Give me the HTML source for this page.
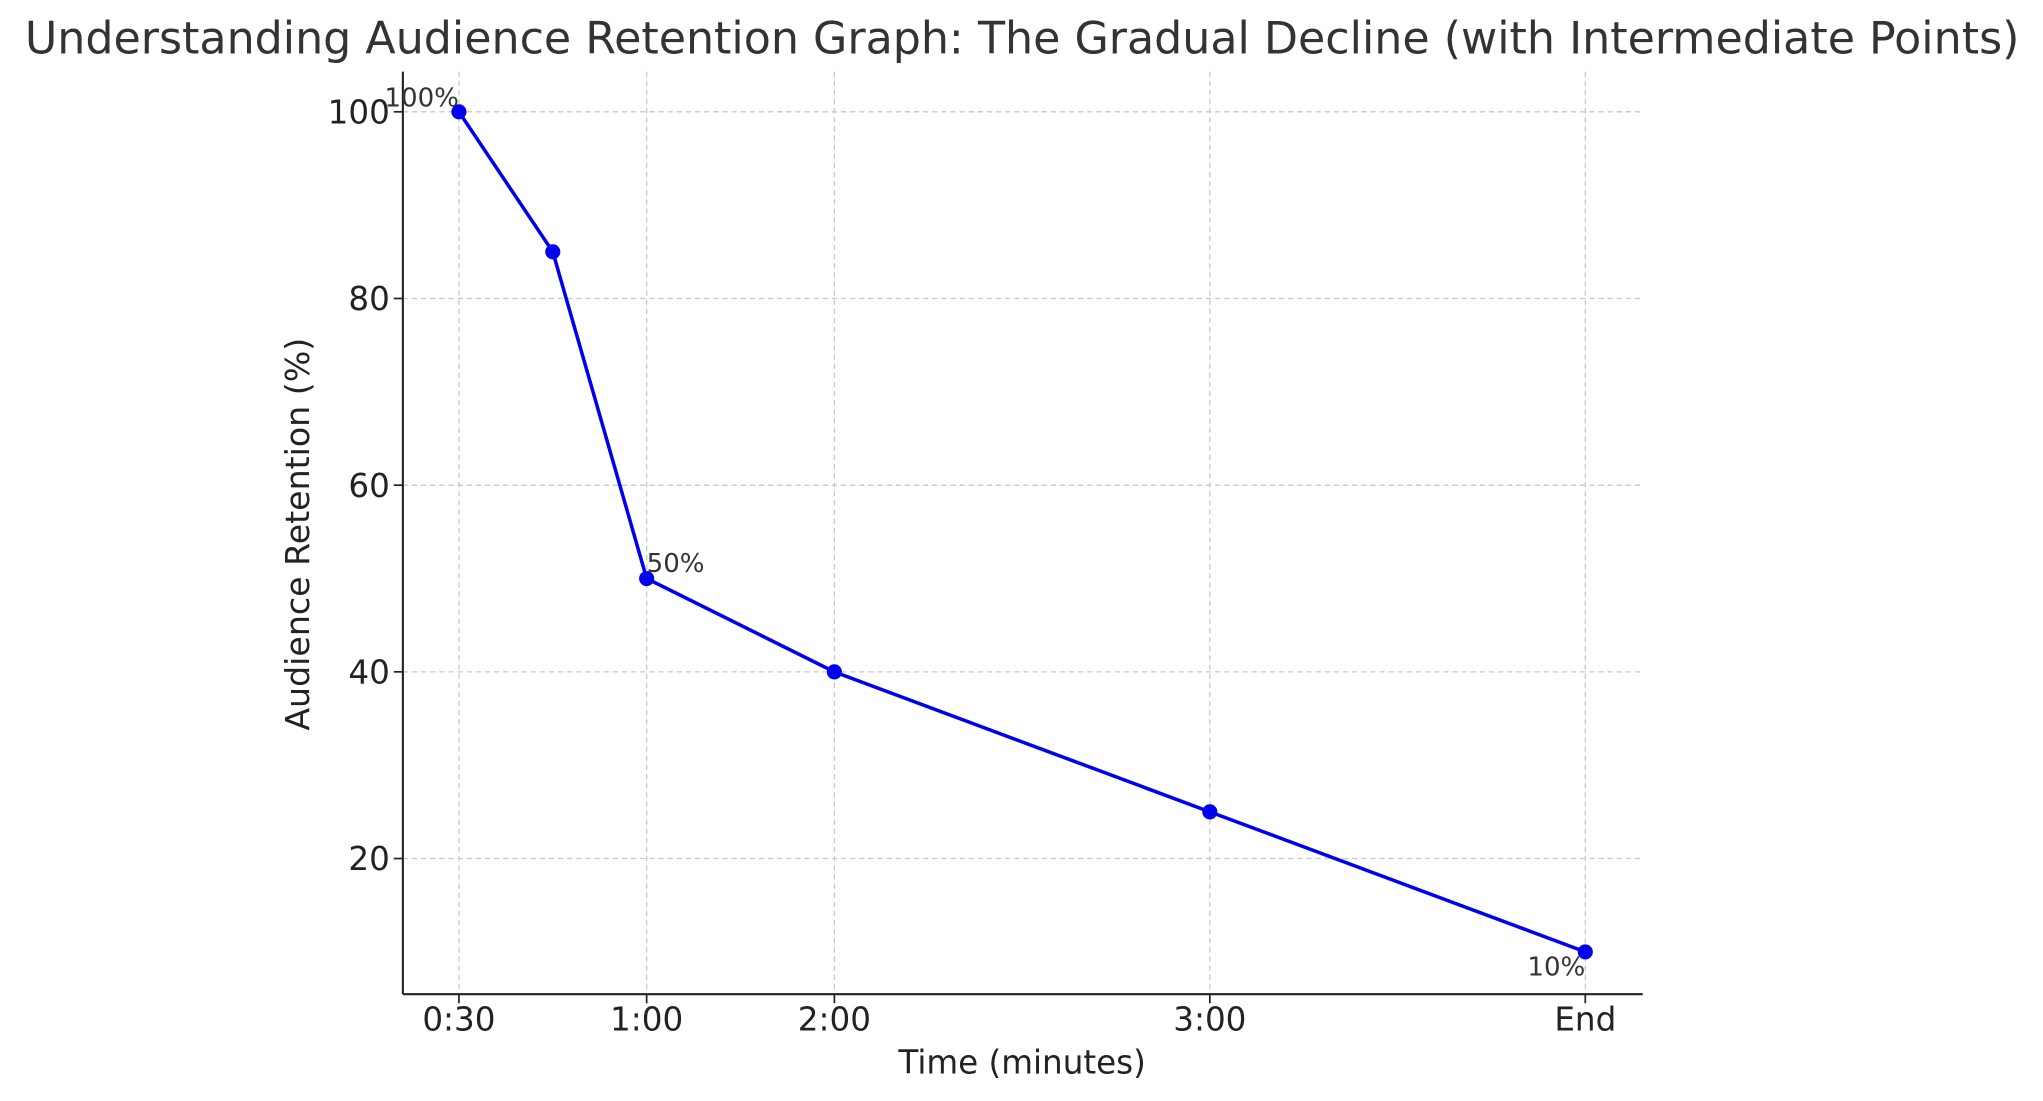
<!DOCTYPE html>
<html><head><meta charset="utf-8"><style>
html,body{margin:0;padding:0;background:#fff}
svg{display:block;font-family:"DejaVu Sans","Liberation Sans",sans-serif}
</style></head><body>
<svg id="chart" width="2043" height="1101" viewBox="0 0 1567 845" preserveAspectRatio="none" xmlns="http://www.w3.org/2000/svg">
<text x="784" y="41" text-anchor="middle" font-size="34" fill="#333">Understanding Audience Retention Graph: The Gradual Decline (with Intermediate Points)</text>
<g id="grid"></g>
<g id="axes"></g>
<g id="series"></g>
<text x="784" y="824" text-anchor="middle" font-size="25" fill="#222">Time (minutes)</text>
<text transform="translate(237,410) rotate(-90)" text-anchor="middle" font-size="25.5" fill="#222">Audience Retention (%)</text>
</svg>
<script>
const xValues = [0.5, 0.75, 1, 1.5, 2.5, 3.5];
const retention = [100, 85, 50, 40, 25, 10];
const xTickValues = [0.5, 1, 1.5, 2.5, 3.5];
const xTickLabels = ["0:30", "1:00", "2:00", "3:00", "End"];
const yTickValues = [20, 40, 60, 80, 100];
const annotations = [[0, "100%"], [2, "50%"], [5, "10%"]];

const NS = "http://www.w3.org/2000/svg";
const L = 309, R = 1260, T = 55, B = 763;
const xMin = 0.3507, xMax = 3.653, yMin = 5.47, yMax = 104.3;
const sx = v => L + (v - xMin) / (xMax - xMin) * (R - L);
const sy = v => B - (v - yMin) / (yMax - yMin) * (B - T);
function mk(tag, attrs, parent) { const e = document.createElementNS(NS, tag); for (const k in attrs) e.setAttribute(k, attrs[k]); parent.appendChild(e); return e; }
const grid = document.getElementById('grid'), axes = document.getElementById('axes'), series = document.getElementById('series');

yTickValues.forEach(v => {
  const g = mk('line', {x1: L, x2: R, y1: sy(v), y2: sy(v), stroke: '#c8c8c8', 'stroke-dasharray': '4,3', 'stroke-width': 1}, grid);
  
  
  const t = mk('line', {x1: L - 7, x2: L, y1: sy(v), y2: sy(v), stroke: '#222', 'stroke-width': 1.3}, axes);
  
  
  const l = mk('text', {x: L - 10, y: sy(v) + 9, 'text-anchor': 'end', 'font-size': 25, fill: '#222'}, axes);
  l.textContent = v;
  
  
});
xTickValues.forEach((v, i) => {
  const g = mk('line', {x1: sx(v), x2: sx(v), y1: T, y2: B, stroke: '#c8c8c8', 'stroke-dasharray': '4,3', 'stroke-width': 1}, grid);
  
  
  const t = mk('line', {x1: sx(v), x2: sx(v), y1: B, y2: B + 7, stroke: '#222', 'stroke-width': 1.3}, axes);
  
  
  const l = mk('text', {x: sx(v), y: B + 28, 'text-anchor': 'middle', 'font-size': 25, fill: '#222'}, axes);
  l.textContent = xTickLabels[i];
  
  
});
const sl = mk('line', {x1: L, x2: L, y1: T, y2: B, stroke: '#222', 'stroke-width': 1.6}, axes);


const sb = mk('line', {x1: L, x2: R, y1: B, y2: B, stroke: '#222', 'stroke-width': 1.6}, axes);



const pts = xValues.map((x, i) => sx(x) + ',' + sy(retention[i])).join(' ');
const pl = mk('polyline', {points: pts, fill: 'none', stroke: '#0000ee', 'stroke-width': 2.7}, series);


xValues.forEach((x, i) => {
  const c = mk('circle', {cx: sx(x), cy: sy(retention[i]), r: 5.8, fill: '#0000ee'}, series);
  
  
});
annotations.forEach(([i, txt], k) => {
  let x = sx(xValues[i]), y = sy(retention[i]), anchor = 'start';
  if (k === 0) { anchor = 'end'; y -= 4; }
  else if (k === 1) { y -= 5; }
  else { anchor = 'end'; y += 18; }
  const t = mk('text', {x: x, y: y, 'text-anchor': anchor, 'font-size': 20, fill: '#333'}, series);
  t.textContent = txt;
  
  
});
</script>
</body></html>
